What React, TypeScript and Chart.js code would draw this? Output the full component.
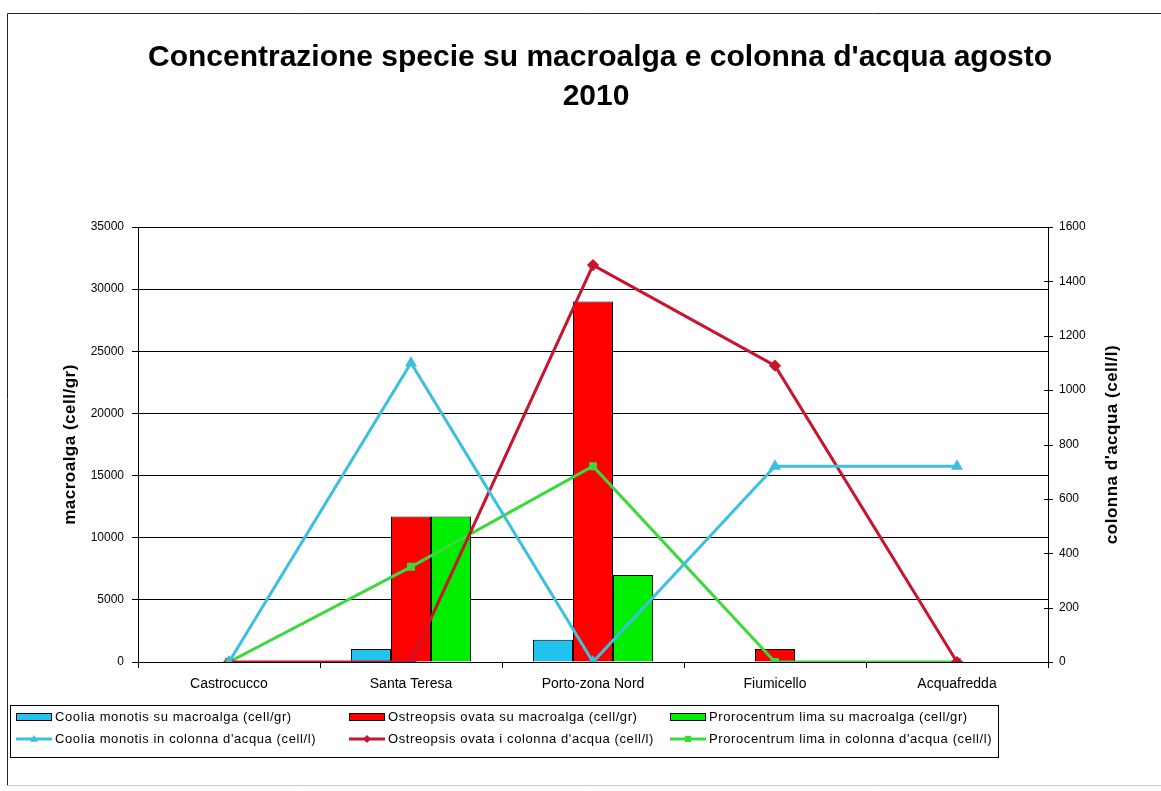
import React, { useEffect, useRef } from "react";
import { Chart, registerables } from "chart.js";

Chart.register(...registerables);

const categories = ["Castrocucco", "Santa Teresa", "Porto-zona Nord", "Fiumicello", "Acquafredda"];

const cooliaMacro = [0, 1050, 1800, 0, 0];
const ostreopsisMacro = [0, 11700, 29000, 1050, 0];
const prorocentrumMacro = [0, 11700, 7000, 0, 0];

const cooliaWater = [0, 1100, 0, 720, 720];
const ostreopsisWater = [0, 0, 1460, 1090, 0];
const prorocentrumWater = [0, 350, 720, 0, 0];

const titleLines = ["Concentrazione specie su macroalga e colonna d'acqua agosto", "2010"];
const leftAxisTitle = "macroalga (cell/gr)";
const rightAxisTitle = "colonna d'acqua (cell/l)";

const seriesLabels = [
  "Coolia monotis su macroalga (cell/gr)",
  "Ostreopsis ovata su macroalga (cell/gr)",
  "Prorocentrum lima su macroalga (cell/gr)",
  "Coolia monotis in colonna d'acqua (cell/l)",
  "Ostreopsis ovata i colonna d'acqua (cell/l)",
  "Prorocentrum lima in colonna d'acqua (cell/l)",
];

const FONT = '"Liberation Sans", Arial, sans-serif';

function drawMarker(ctx: any, style: string, x: number, y: number, r: number) {
  ctx.beginPath();
  if (style === "triangle") {
    ctx.moveTo(x, y - r);
    ctx.lineTo(x + r, y + r * 0.7);
    ctx.lineTo(x - r, y + r * 0.7);
  } else if (style === "rectRot") {
    ctx.moveTo(x, y - r);
    ctx.lineTo(x + r, y);
    ctx.lineTo(x, y + r);
    ctx.lineTo(x - r, y);
  } else {
    ctx.rect(x - r * 0.8, y - r * 0.8, r * 1.6, r * 1.6);
  }
  ctx.closePath();
  ctx.fill();
}

const decorPlugin = {
  id: "decor",
  beforeDraw(chart: any) {
    const ctx = chart.ctx;
    ctx.save();
    ctx.fillStyle = "#fff";
    ctx.fillRect(0, 0, chart.width, chart.height);
    ctx.strokeStyle = "#222";
    ctx.lineWidth = 1;
    ctx.beginPath();
    ctx.moveTo(chart.width + 2, 13.5);
    ctx.lineTo(7.5, 13.5);
    ctx.lineTo(7.5, 785.5);
    ctx.stroke();
    ctx.strokeStyle = "#ccc";
    ctx.beginPath();
    ctx.moveTo(7.5, 785.5);
    ctx.lineTo(chart.width + 2, 785.5);
    ctx.stroke();
    ctx.restore();
  },
  afterDraw(chart: any) {
    const ctx = chart.ctx;
    const area = chart.chartArea;
    ctx.save();
    // title
    ctx.fillStyle = "#000";
    ctx.font = `bold 30px ${FONT}`;
    ctx.textAlign = "center";
    ctx.textBaseline = "alphabetic";
    ctx.fillText(titleLines[0], 600, 66);
    ctx.fillText(titleLines[1], 596, 105);

    // axis titles
    const midY = (area.top + area.bottom) / 2;
    ctx.font = `bold 17px ${FONT}`;
    (ctx as any).letterSpacing = "0.5px";
    ctx.textBaseline = "middle";
    ctx.save();
    ctx.translate(70, midY);
    ctx.rotate(-Math.PI / 2);
    ctx.fillText(leftAxisTitle, 0, 0);
    ctx.restore();
    ctx.save();
    ctx.translate(1112, midY);
    ctx.rotate(-Math.PI / 2);
    ctx.fillText(rightAxisTitle, 0, 0);
    ctx.restore();
    (ctx as any).letterSpacing = "0px";

    // right axis crossing ticks
    const y1 = chart.scales.y1;
    ctx.strokeStyle = "#000";
    ctx.lineWidth = 1;
    y1.ticks.forEach((t: any) => {
      const py = Math.round(y1.getPixelForValue(t.value)) + 0.5;
      ctx.beginPath();
      ctx.moveTo(area.right - 4, py);
      ctx.lineTo(area.right + 5, py);
      ctx.stroke();
    });

    // legend
    const lx = 10.5, ly = 705.5, lw = 988, lh = 52;
    ctx.strokeStyle = "#000";
    ctx.strokeRect(lx, ly, lw, lh);
    const colX = [16, 349, 670];
    const rowY = [717, 739];
    ctx.font = `13px ${FONT}`;
    (ctx as any).letterSpacing = "0.6px";
    ctx.textAlign = "left";
    ctx.textBaseline = "middle";
    const ds = chart.data.datasets;
    for (let i = 0; i < 6; i++) {
      const d = ds[i];
      const row = i < 3 ? 0 : 1;
      const col = i % 3;
      const x = colX[col];
      const y = rowY[row];
      if (d.type === "bar") {
        ctx.fillStyle = d.backgroundColor;
        ctx.fillRect(x, y - 4, 36, 8);
        ctx.strokeStyle = "#000";
        ctx.strokeRect(x + 0.5, y - 3.5, 35, 7);
      } else {
        ctx.strokeStyle = d.borderColor;
        ctx.lineWidth = 3;
        ctx.beginPath();
        ctx.moveTo(x, y);
        ctx.lineTo(x + 36, y);
        ctx.stroke();
        ctx.lineWidth = 1;
        ctx.fillStyle = d.borderColor;
        drawMarker(ctx, d.pointStyle, x + 18, y, 4);
      }
      ctx.fillStyle = "#000";
      ctx.fillText(seriesLabels[i], x + 39, y + 0.5);
    }
    ctx.restore();
  },
};

export default function App() {
  const ref = useRef<HTMLCanvasElement>(null);
  useEffect(() => {
    if (!ref.current) return;
    const tickFont = { family: FONT, size: 12 };
    const chart = new Chart(ref.current, {
      type: "bar",
      data: {
        labels: categories,
        datasets: [
          { type: "bar", label: seriesLabels[0], data: cooliaMacro, yAxisID: "y", backgroundColor: "#22C3EE", borderColor: "#000", borderWidth: 1, categoryPercentage: 0.66, barPercentage: 1, order: 2 },
          { type: "bar", label: seriesLabels[1], data: ostreopsisMacro, yAxisID: "y", backgroundColor: "#FF0000", borderColor: "#000", borderWidth: 1, categoryPercentage: 0.66, barPercentage: 1, order: 2 },
          { type: "bar", label: seriesLabels[2], data: prorocentrumMacro, yAxisID: "y", backgroundColor: "#00EE00", borderColor: "#000", borderWidth: 1, categoryPercentage: 0.66, barPercentage: 1, order: 2 },
          { type: "line", label: seriesLabels[3], data: cooliaWater, yAxisID: "y1", borderColor: "#3CC0E0", backgroundColor: "#3CC0E0", borderWidth: 3, pointStyle: "triangle", pointRadius: 4, tension: 0, order: 1 },
          { type: "line", label: seriesLabels[4], data: ostreopsisWater, yAxisID: "y1", borderColor: "#C8142E", backgroundColor: "#C8142E", borderWidth: 3, pointStyle: "rectRot", pointRadius: 4, tension: 0, order: 1 },
          { type: "line", label: seriesLabels[5], data: prorocentrumWater, yAxisID: "y1", borderColor: "#3CD83C", backgroundColor: "#3CD83C", borderWidth: 3, pointStyle: "rect", pointRadius: 3.5, tension: 0, order: 1 },
        ] as any,
      },
      options: {
        responsive: false,
        animation: false,
        layout: { padding: { top: 227, bottom: 89, left: 0, right: 0 } },
        plugins: {
          legend: { display: false },
          title: { display: false },
          tooltip: { enabled: false },
        },
        scales: {
          x: {
            offset: true,
            grid: { offset: true, drawOnChartArea: false, drawTicks: true, tickLength: 6, color: "#000" },
            border: { color: "#000" },
            ticks: { font: { family: FONT, size: 14 }, color: "#000", padding: 8, maxRotation: 0, autoSkip: false },
            afterFit: (s: any) => { s.height = 40; },
          },
          y: {
            position: "left",
            min: 0,
            max: 35000,
            ticks: { stepSize: 5000, font: tickFont, color: "#000", padding: 8, callback: (v: any) => String(v) },
            grid: { color: "#000", tickLength: 6 },
            border: { color: "#000" },
            afterFit: (s: any) => { s.width = 138; },
          },
          y1: {
            position: "right",
            min: 0,
            max: 1600,
            ticks: { stepSize: 200, font: tickFont, color: "#000", padding: 11, callback: (v: any) => String(v) },
            grid: { drawOnChartArea: false, drawTicks: false },
            border: { color: "#000" },
            afterFit: (s: any) => { s.width = 113; },
          },
        },
      } as any,
      plugins: [decorPlugin],
    });
    return () => chart.destroy();
  }, []);
  return (
    <div style={{ position: "fixed", left: 0, top: 0, width: 1161, height: 791, background: "#fff" }}>
      <canvas ref={ref} width={1161} height={791} style={{ display: "block" }} />
    </div>
  );
}
